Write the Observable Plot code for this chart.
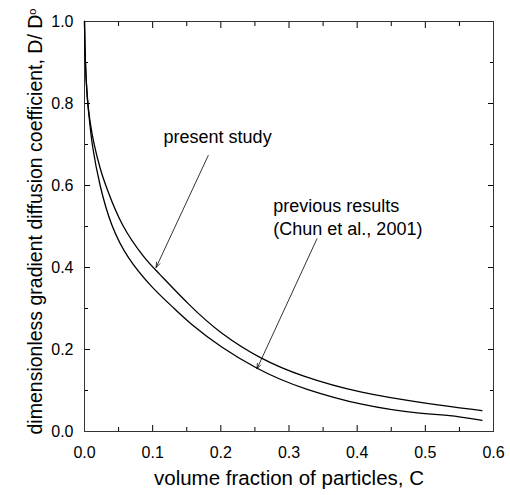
<!DOCTYPE html>
<html>
<head>
<meta charset="utf-8">
<script src="https://cdn.jsdelivr.net/npm/d3@7"></script>
<script src="https://cdn.jsdelivr.net/npm/@observablehq/plot@0.6"></script>
<style>
  body { margin: 0; background: #fff; }
  #chart svg { display: block; }
</style>
</head>
<body>
<div id="chart"></div>
<script>
// Diffusion coefficient vs. volume fraction: present study
const presentC = [0, 0.001, 0.004, 0.0075, 0.0137, 0.0235, 0.031, 0.054, 0.09, 0.104, 0.155, 0.2, 0.258, 0.317, 0.405, 0.503, 0.583];
const presentD = [1.0, 0.90, 0.81, 0.76, 0.70, 0.637, 0.60, 0.50, 0.418, 0.395, 0.305, 0.238, 0.177, 0.135, 0.093, 0.068, 0.051];

// Previous results (Chun et al., 2001)
const previousC = [0, 0.001, 0.004, 0.0073, 0.0108, 0.022, 0.039, 0.063, 0.098, 0.133, 0.155, 0.2, 0.253, 0.287, 0.317, 0.405, 0.503, 0.532, 0.583];
const previousD = [1.0, 0.90, 0.81, 0.76, 0.70, 0.60, 0.50, 0.422, 0.352, 0.298, 0.263, 0.205, 0.153, 0.127, 0.107, 0.063, 0.041, 0.041, 0.027];

// Axis ticks
const xTicks = [0, 0.1, 0.2, 0.3, 0.4, 0.5, 0.6];
const xMinorTicks = [0.05, 0.15, 0.25, 0.35, 0.45, 0.55];
const yTicks = [0, 0.2, 0.4, 0.6, 0.8, 1.0];
const yMinorTicks = [0.1, 0.3, 0.5, 0.7, 0.9];

// Axis titles
const xTitle = "volume fraction of particles, C";
const yTitle = "dimensionless gradient diffusion coefficient, D/ D";
const ySubscript = "o";

// Annotations and their pointer arrows
const noteText = ["present study", "previous results\n(Chun et al., 2001)"];
const noteC = [0.116, 0.277];
const noteD = [0.722, 0.526];
const arrowFromC = [0.1815, 0.341];
const arrowFromD = [0.673, 0.470];
const arrowToC = [0.105, 0.253];
const arrowToD = [0.400, 0.153];

const present = presentC.map((c, i) => ({c, d: presentD[i]}));
const previous = previousC.map((c, i) => ({c, d: previousD[i]}));
const notes = noteText.map((text, i) => ({text, c: noteC[i], d: noteD[i]}));
const arrows = arrowFromC.map((c, i) => ({c1: c, d1: arrowFromD[i], c2: arrowToC[i], d2: arrowToD[i]}));

const tickFmt = d => d.toFixed(1);
const font = "'Liberation Sans', Arial, Helvetica, sans-serif";

const chart = Plot.plot({
  width: 510,
  height: 495,
  marginLeft: 84,
  marginRight: 17,
  marginTop: 21,
  marginBottom: 64,
  style: {fontFamily: font, background: "#fff", color: "#000", overflow: "visible"},
  x: {domain: [0, 0.6]},
  y: {domain: [0, 1]},
  marks: [
    // inward ticks on all four sides
    Plot.axisX(xTicks, {anchor: "bottom", tickSize: -6, fill: "none", label: null}),
    Plot.axisX(xMinorTicks, {anchor: "bottom", tickSize: -4, fill: "none", label: null}),
    Plot.axisX(xTicks, {anchor: "top", tickSize: -6, fill: "none", label: null}),
    Plot.axisX(xMinorTicks, {anchor: "top", tickSize: -4, fill: "none", label: null}),
    Plot.axisY(yTicks, {anchor: "left", tickSize: -6, fill: "none", label: null}),
    Plot.axisY(yMinorTicks, {anchor: "left", tickSize: -4, fill: "none", label: null}),
    Plot.axisY(yTicks, {anchor: "right", tickSize: -6, fill: "none", label: null}),
    Plot.axisY(yMinorTicks, {anchor: "right", tickSize: -4, fill: "none", label: null}),
    // tick labels
    Plot.axisX(xTicks, {anchor: "bottom", tickSize: 0, tickPadding: 15, tickFormat: tickFmt, fontSize: 16, label: null}),
    Plot.axisY(yTicks, {anchor: "left", tickSize: 0, tickPadding: 11, tickFormat: tickFmt, fontSize: 16, label: null}),
    Plot.frame({stroke: "#333", strokeWidth: 1}),
    // curves
    Plot.line(previous, {x: "c", y: "d", curve: "basis", stroke: "#000", strokeWidth: 1.3}),
    Plot.line(present, {x: "c", y: "d", curve: "basis", stroke: "#000", strokeWidth: 1.3}),
    // annotations
    Plot.arrow(arrows, {x1: "c1", y1: "d1", x2: "c2", y2: "d2", stroke: "#000", strokeWidth: 0.8, headLength: 10, headAngle: 40}),
    Plot.text(notes, {x: "c", y: "d", text: "text", textAnchor: "start", fontSize: 18, lineHeight: 1.28, fill: "#000"}),
    // axis titles
    Plot.text([xTitle], {frameAnchor: "bottom", textAnchor: "middle", dy: 53, fontSize: 20.5, fill: "#000"}),
    Plot.text([yTitle], {frameAnchor: "left", textAnchor: "middle", rotate: -90, dx: -49, dy: -5, fontSize: 19.5, fill: "#000"})
  ]
});

// raised "o" after the D in the y-axis title
d3.select(chart).selectAll("text")
  .filter(function () { return this.textContent === yTitle; })
  .append("tspan")
  .attr("dy", "-0.5em")
  .attr("font-size", "11px")
  .text(ySubscript);

document.getElementById("chart").appendChild(chart);
</script>
</body>
</html>
